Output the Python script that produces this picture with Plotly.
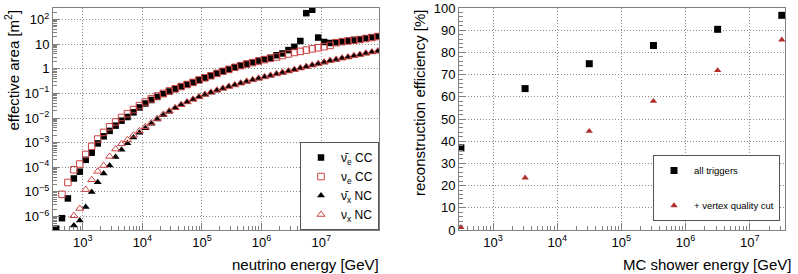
import plotly.graph_objects as go

# ---------------- left panel data ----------------
energy_gev = [355, 447, 562, 708, 891,
              1.12e3, 1.41e3, 1.78e3, 2.24e3, 2.82e3, 3.55e3, 4.47e3, 5.62e3, 7.08e3, 8.91e3,
              1.12e4, 1.41e4, 1.78e4, 2.24e4, 2.82e4, 3.55e4, 4.47e4, 5.62e4, 7.08e4, 8.91e4,
              1.12e5, 1.41e5, 1.78e5, 2.24e5, 2.82e5, 3.55e5, 4.47e5, 5.62e5, 7.08e5, 8.91e5,
              1.12e6, 1.41e6, 1.78e6, 2.24e6, 2.82e6, 3.55e6, 4.47e6, 5.62e6, 7.08e6, 8.91e6,
              1.12e7, 1.41e7, 1.78e7, 2.24e7, 2.82e7, 3.55e7, 4.47e7, 5.62e7, 7.08e7, 8.91e7]

area_nuebar_cc = [3.2e-7, 8.5e-7, 5.4e-6, 3.5e-5, 6.6e-5,
                  2.0e-4, 3.9e-4, 9.3e-4, 1.8e-3, 3.0e-3, 4.9e-3, 7.8e-3, 1.1e-2, 1.7e-2, 2.7e-2,
                  3.9e-2, 5.4e-2, 7.2e-2, 9.5e-2, 0.12, 0.15, 0.19, 0.23, 0.28, 0.35,
                  0.43, 0.52, 0.65, 0.79, 0.95, 1.15, 1.35, 1.6, 1.85, 2.15,
                  2.45, 2.8, 3.55, 4.2, 5.75, 7.8, 13.5, 182, 251, 18.6,
                  12.3, 11.2, 12.0, 12.9, 13.8, 14.8, 15.8, 17.4, 19.1, 20.9]

area_nue_cc = [None, 7.9e-6, 2.4e-5, 7.9e-5, 1.35e-4,
               3.3e-4, 7.1e-4, 1.4e-3, 2.6e-3, 4.4e-3, 6.9e-3, 1.05e-2, 1.5e-2, 2.2e-2, 3.2e-2,
               4.5e-2, 6.0e-2, 7.9e-2, 0.10, 0.126, 0.155, 0.19, 0.23, 0.28, 0.35,
               0.43, 0.52, 0.65, 0.79, 0.95, 1.15, 1.35, 1.55, 1.78, 2.05,
               2.35, 2.65, 3.0, 3.45, 4.0, 4.6, 5.1, 5.75, 6.45, 7.1,
               7.9, 8.9, 11.5, 12.6, 13.5, 14.5, 15.5, 17.0, 18.6, 20.4]

area_nuxbar_nc = [None, None, None, 4.3e-7, 6.8e-7,
                  2.4e-6, 9.8e-6, 2.45e-5, 5.6e-5, 1.17e-4, 2.6e-4, 5.1e-4, 9.5e-4, 1.6e-3, 2.5e-3,
                  3.8e-3, 5.8e-3, 8.7e-3, 1.3e-2, 1.8e-2, 2.5e-2, 3.4e-2, 4.4e-2, 5.6e-2, 7.1e-2,
                  8.9e-2, 0.11, 0.13, 0.16, 0.19, 0.22, 0.26, 0.30, 0.35, 0.40,
                  0.46, 0.52, 0.60, 0.69, 0.79, 0.91, 1.05, 1.2, 1.38, 1.58,
                  1.82, 2.1, 2.35, 2.65, 2.95, 3.3, 3.7, 4.2, 4.7, 5.1]

area_nux_nc = [None, None, None, 1.07e-6, 2.1e-6,
               1.23e-5, 3.1e-5, 6.8e-5, 1.17e-4, 2.75e-4, 5.5e-4, 8.9e-4, 1.3e-3, 2.0e-3, 3.0e-3,
               4.4e-3, 6.3e-3, 9.5e-3, 1.4e-2, 1.9e-2, 2.6e-2, 3.5e-2, 4.5e-2, 5.75e-2, 7.2e-2,
               9.1e-2, 0.11, 0.135, 0.16, 0.19, 0.22, 0.26, 0.31, 0.355, 0.41,
               0.47, 0.54, 0.62, 0.71, 0.81, 0.93, 1.07, 1.23, 1.41, 1.62,
               1.86, 2.15, 2.4, 2.7, 3.0, 3.4, 3.8, 4.3, 4.8, 5.25]

legend_left = ["\u03bd\u0304<sub>e</sub> CC", "\u03bd<sub>e</sub> CC",
               "\u03bd\u0304<sub>x</sub> NC", "\u03bd<sub>x</sub> NC"]

left_x_tickvals = [1e3, 1e4, 1e5, 1e6, 1e7]
left_x_ticktext = ["10<sup>3</sup>", "10<sup>4</sup>", "10<sup>5</sup>", "10<sup>6</sup>", "10<sup>7</sup>"]
left_y_tickvals = [1e-6, 1e-5, 1e-4, 1e-3, 1e-2, 1e-1, 1, 10, 100]
left_y_ticktext = ["10<sup>\u22126</sup>", "10<sup>\u22125</sup>", "10<sup>\u22124</sup>",
                   "10<sup>\u22123</sup>", "10<sup>\u22122</sup>", "10<sup>\u22121</sup>",
                   "1", "10", "10<sup>2</sup>"]

# ---------------- right panel data ----------------
shower_energy_gev = [316, 3162, 31623, 316228, 3162278, 31622777]
eff_all_triggers = [37.0, 63.7, 74.9, 83.1, 90.4, 96.7]
eff_vertex_cut = [1.2, 23.5, 44.5, 58.0, 71.9, 85.7]
legend_right = ["all triggers", "+ vertex quality cut"]

right_x_tickvals = [1e3, 1e4, 1e5, 1e6, 1e7]
right_x_ticktext = left_x_ticktext
right_y_tickvals = [0, 10, 20, 30, 40, 50, 60, 70, 80, 90, 100]

# ---------------- styling ----------------
W, H = 798, 274
FONT = "Liberation Sans, Arial, Helvetica, sans-serif"
RED = "#cc4444"
DARKRED = "#b03030"
FRAME = "#808080"
GRID = "#8a8a8a"

def px_x(p):
    return p / W

def px_y(p):
    return 1 - p / H

fig = go.Figure()

fig.add_trace(go.Scatter(x=energy_gev, y=area_nuebar_cc, mode="markers", name=legend_left[0],
                         marker=dict(symbol="square", size=6.5, color="black"),
                         xaxis="x", yaxis="y", legend="legend"))
fig.add_trace(go.Scatter(x=energy_gev, y=area_nue_cc, mode="markers", name=legend_left[1],
                         marker=dict(symbol="square-open", size=6.5, color=RED, line=dict(width=1)),
                         xaxis="x", yaxis="y", legend="legend"))
fig.add_trace(go.Scatter(x=energy_gev, y=area_nuxbar_nc, mode="markers", name=legend_left[2],
                         marker=dict(symbol="triangle-up", size=7, color="black"),
                         xaxis="x", yaxis="y", legend="legend"))
fig.add_trace(go.Scatter(x=energy_gev, y=area_nux_nc, mode="markers", name=legend_left[3],
                         marker=dict(symbol="triangle-up-open", size=7, color=RED, line=dict(width=1)),
                         xaxis="x", yaxis="y", legend="legend"))

fig.add_trace(go.Scatter(x=shower_energy_gev, y=eff_all_triggers, mode="markers", name=legend_right[0],
                         marker=dict(symbol="square", size=7, color="black"),
                         xaxis="x2", yaxis="y2", legend="legend2", legendgroup="a"))
fig.add_trace(go.Scatter(x=shower_energy_gev, y=eff_vertex_cut, mode="markers", name=legend_right[1],
                         marker=dict(symbol="triangle-up", size=6.5, color=DARKRED),
                         xaxis="x2", yaxis="y2", legend="legend2", legendgroup="b"))

axis_common = dict(showline=True, linecolor=FRAME, linewidth=1, mirror=True,
                   ticks="inside", tickcolor=FRAME, ticklen=7, tickwidth=1,
                   showgrid=True, gridcolor=GRID, griddash="1px,2px", gridwidth=1,
                   zeroline=False, automargin=False,
                   tickfont=dict(family=FONT, size=13, color="black"))

ydom = [px_y(230), px_y(8)]

fig.update_layout(
    width=W, height=H, margin=dict(l=0, r=0, t=0, b=0, autoexpand=False),
    paper_bgcolor="white", plot_bgcolor="white",
    font=dict(family=FONT, color="black"),
    xaxis=dict(domain=[px_x(53), px_x(379)], type="log", range=[2.5, 7.97],
               tickmode="array", tickvals=left_x_tickvals, ticktext=left_x_ticktext,
               minor=dict(ticks="inside", ticklen=4, tickcolor=FRAME, dtick="D1", showgrid=False),
               anchor="y", **axis_common),
    yaxis=dict(domain=ydom, type="log", range=[-6.55, 2.47],
               tickmode="array", tickvals=left_y_tickvals, ticktext=left_y_ticktext,
               minor=dict(ticks="inside", ticklen=4, tickcolor=FRAME, dtick="D1", showgrid=False),
               anchor="x", **axis_common),
    xaxis2=dict(domain=[px_x(459), px_x(785)], type="log", range=[2.47, 7.55],
                tickmode="array", tickvals=right_x_tickvals, ticktext=right_x_ticktext,
                minor=dict(ticks="inside", ticklen=4, tickcolor=FRAME, dtick="D1", showgrid=False),
                anchor="y2", **axis_common),
    yaxis2=dict(domain=ydom, range=[0, 100], tickmode="array", tickvals=right_y_tickvals,
                minor=dict(ticks="inside", ticklen=4, tickcolor=FRAME, dtick=2, showgrid=False),
                anchor="x2", **axis_common),
    legend=dict(x=px_x(379), xanchor="right", y=px_y(230), yanchor="bottom",
                bgcolor="white", bordercolor="#555", borderwidth=1,
                font=dict(family=FONT, size=12, color="black"), itemwidth=30,
                tracegroupgap=0),
    legend2=dict(x=px_x(780), xanchor="right", y=px_y(221), yanchor="bottom",
                 bgcolor="white", bordercolor="#555", borderwidth=1,
                 font=dict(family=FONT, size=9.5, color="black"), itemwidth=30,
                 tracegroupgap=16),
    showlegend=True,
)

fig.add_annotation(text="effective area [m<sup>2</sup>]", textangle=-90, showarrow=False,
                   xref="paper", yref="paper", x=px_x(12), y=px_y(8), xanchor="center", yanchor="top",
                   font=dict(family=FONT, size=15, color="black"))
fig.add_annotation(text="neutrino energy [GeV]", showarrow=False,
                   xref="paper", yref="paper", x=px_x(230), y=px_y(264), xanchor="left", yanchor="middle",
                   font=dict(family=FONT, size=15, color="black"))
fig.add_annotation(text="reconstruction efficiency [%]", textangle=-90, showarrow=False,
                   xref="paper", yref="paper", x=px_x(420), y=px_y(8), xanchor="center", yanchor="top",
                   font=dict(family=FONT, size=15, color="black"))
fig.add_annotation(text="MC shower energy [GeV]", showarrow=False,
                   xref="paper", yref="paper", x=px_x(621), y=px_y(264), xanchor="left", yanchor="middle",
                   font=dict(family=FONT, size=15, color="black"))

fig.write_html("out.html", config={"displayModeBar": False},
               post_script="document.body.style.margin='0';document.body.style.overflow='hidden';")
